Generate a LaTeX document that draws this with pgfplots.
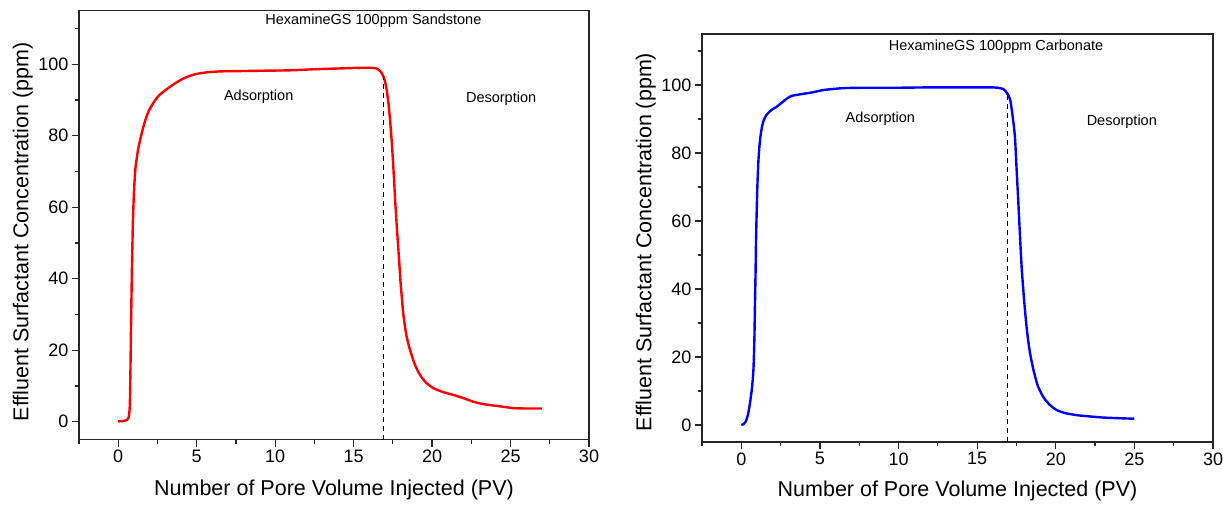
\documentclass[border=0pt]{standalone}
\usepackage{pgfplots}
\pgfplotsset{compat=1.18}
\usepackage{fontspec}
\setmainfont{Liberation Sans}

\pgfplotsset{
  myaxis/.style={
    scale only axis,
    xmin=-2.5, xmax=30, ymin=-5, ymax=115,
    xtick={0,5,...,30}, ytick={0,20,...,100},
    minor xtick={-2.5,2.5,7.5,12.5,17.5,22.5,27.5},
    minor ytick={10,30,50,70,90,110},
    axis line style={line width=1.5pt, black!85},
    tick align=outside,
    xtick pos=bottom, ytick pos=left,
    major tick length=7pt, minor tick length=4pt,
    every tick/.style={black!85, line width=1.2pt},
    ticklabel style={font=\fontsize{18}{18}\selectfont},
    /pgf/number format/assume math mode=true,
    label style={font=\fontsize{21.5}{21.5}\selectfont},
    xlabel={Number of Pore Volume Injected (PV)},
    ylabel={Effluent Surfactant Concentration (ppm)},
    clip=false,
  },
}
\tikzset{annot/.style={font=\fontsize{14.5}{14.5}\selectfont, anchor=center}}

\begin{document}
\begin{tikzpicture}
\useasboundingbox (0,0) rectangle (1223pt,-506pt);

% Left panel: Sandstone
\begin{axis}[myaxis,
  at={(79pt,-439.6pt)}, anchor=south west,
  width=510pt, height=429pt,
  xlabel style={at={(axis description cs:0.5,0)}, anchor=center, yshift=-50pt},
  ylabel style={at={(axis description cs:-0.110,0.484)}, anchor=center},
]
\addplot[red, line width=2.4pt, smooth, tension=0.4] coordinates {
(0,0.1) (0.3,0.2) (0.55,0.5) (0.68,1.5) (0.74,5) (0.78,15) (0.82,28) (0.87,42)
(0.93,55) (1.0,64) (1.1,71) (1.28,76.5) (1.6,82.5) (1.9,86.5) (2.24,89.2)
(2.6,91.3) (3.09,93.0) (3.6,94.6) (4.15,96) (4.6,96.8) (5.0,97.3) (5.6,97.7)
(6.5,98.0) (8,98.1) (9.5,98.2) (11,98.3) (12.5,98.6) (14,98.8) (15.4,99.0)
(16.1,99.0) (16.47,98.8) (16.75,97.8) (16.95,96.0) (17.1,93.0) (17.22,89.0)
(17.33,84) (17.45,77) (17.56,69) (17.66,61) (17.76,54) (17.87,47) (18.0,38.5)
(18.17,30) (18.37,24) (18.6,20) (18.9,16) (19.23,13.1) (19.6,11) (20.08,9.4)
(20.7,8.3) (21.36,7.5) (22.0,6.6) (22.63,5.6) (23.3,4.9) (24.33,4.3) (25.2,3.8)
(26,3.7) (27,3.7)
};
\addplot[black, line width=0.9pt, dash pattern=on 5pt off 4pt] coordinates {(16.9,-5) (16.9,97.5)};
\node[annot] at (axis cs:16.26,112.1) {HexamineGS 100ppm Sandstone};
\node[annot] at (axis cs:8.95,91.0) {Adsorption};
\node[annot] at (axis cs:24.4,90.4) {Desorption};
\end{axis}

% Right panel: Carbonate
\begin{axis}[myaxis,
  at={(702pt,-442pt)}, anchor=south west,
  width=511pt, height=408pt,
  xlabel style={at={(axis description cs:0.5,0)}, anchor=center, yshift=-49pt},
  ylabel style={at={(axis description cs:-0.110,0.49)}, anchor=center},
]
\addplot[blue, line width=2.4pt, smooth, tension=0.4] coordinates {
(0,0) (0.15,0.3) (0.28,1.0) (0.42,3) (0.55,6.4) (0.68,11) (0.77,16.2) (0.83,25)
(0.87,35.8) (0.91,46) (0.94,55.4) (0.98,63) (1.02,70.1) (1.08,77) (1.15,81.9)
(1.25,86) (1.4,89.3) (1.6,91.2) (1.93,92.7) (2.25,93.6) (2.57,94.8) (2.9,96)
(3.2,96.8) (3.8,97.3) (4.48,97.8) (5.2,98.5) (6,98.9) (6.6,99.1) (8,99.2)
(10,99.2) (12,99.3) (14,99.3) (15.82,99.3) (16.3,99.2) (16.67,98.8) (16.9,97.6)
(17.1,95.7) (17.25,91) (17.4,84.9) (17.5,76) (17.62,65.3) (17.73,55) (17.84,45.6)
(18.0,36) (18.16,28) (18.35,21.5) (18.58,16.2) (18.85,11.6) (19.2,8.3) (19.6,6)
(20.06,4.4) (20.6,3.5) (21.33,2.9) (22.2,2.5) (23,2.2) (24,2.0) (25,1.85)
};
\addplot[black, line width=0.9pt, dash pattern=on 5pt off 4pt] coordinates {(16.9,-5) (16.9,98)};
\node[annot] at (axis cs:16.2,111.3) {HexamineGS 100ppm Carbonate};
\node[annot] at (axis cs:8.84,90.0) {Adsorption};
\node[annot] at (axis cs:24.2,89.3) {Desorption};
\end{axis}
\end{tikzpicture}
\end{document}
